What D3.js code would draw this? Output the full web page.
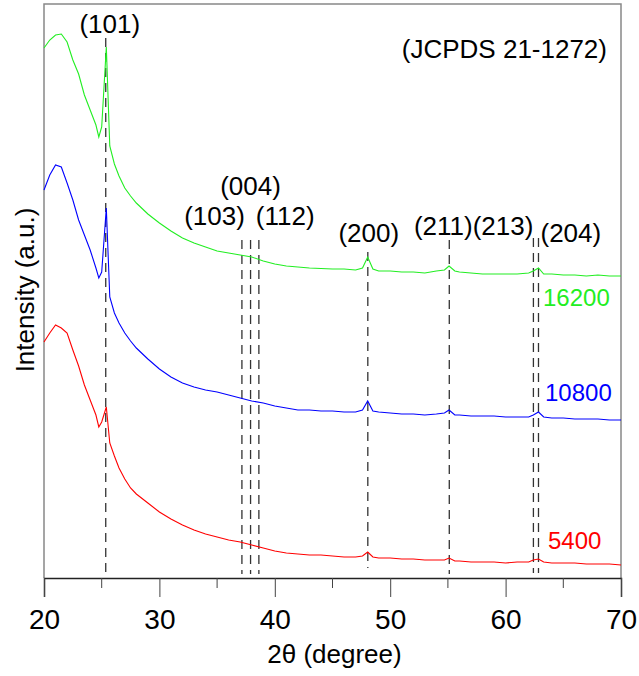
<!DOCTYPE html>
<html>
<head>
<meta charset="utf-8">
<script src="https://cdn.jsdelivr.net/npm/d3@7"></script>
<style>
body { margin: 0; background: #fff; }
text { font-family: "Liberation Sans", Arial, sans-serif; }
</style>
</head>
<body>
<script>
//2theta grid shared by the three patterns
var twoTheta = [20, 20.5, 21, 21.5, 22, 22.5, 23, 23.5, 24, 24.5, 24.75, 25.0, 25.4, 25.7, 26.1, 26.5, 27, 27.5, 28, 29, 30, 31, 32, 33, 34, 35, 36, 37, 38, 39, 40, 41, 42, 43, 44, 45, 46, 47, 47.6, 48.05, 48.5, 49, 50, 51, 52, 53, 54, 54.7, 55.1, 55.6, 56, 57, 58, 59, 60, 61, 62, 62.4, 62.85, 63.3, 64, 65, 66, 67, 68, 69, 70];

//Intensities (a.u., stacked with offset)
var i16200 = [530, 538, 543, 544, 536, 518, 504, 483, 468, 453, 441, 451, 531, 432, 414, 402, 390, 382, 375, 364, 355, 347, 340, 335, 331, 327, 325, 323, 321, 317, 314, 312, 311, 310, 309.5, 309, 309, 308, 310, 321, 309, 307, 307, 306, 306, 305, 307, 308, 312, 307, 306, 305, 304, 304, 304, 304, 305, 307, 310, 304, 304, 303, 303, 302, 303, 302, 302];
var i10800 = [388, 403, 413, 411, 395, 378, 358, 343, 328, 310, 300, 306, 370, 281, 265, 255, 245, 237, 230, 219, 209, 201, 195, 191, 188, 186, 183, 180, 177, 175, 172, 170, 168, 168, 167, 167, 166, 166, 168, 177, 167, 166, 165, 164, 164, 163, 164, 165, 168, 163, 163, 162, 162, 162, 161, 161, 161, 163, 166, 161, 160, 160, 159, 159, 159, 158, 158];
var i5400 = [236, 245, 253, 250, 245, 228, 212, 193, 178, 163, 151, 156, 171, 135, 122, 110, 99, 90, 84, 75, 66, 59, 53, 48, 44, 41, 38, 36, 33, 30, 27, 25, 24, 23, 23, 22, 21, 21, 22, 26, 21, 20, 20, 19, 19, 18, 18, 18, 20, 17, 17, 16, 16, 16, 15, 16, 16, 18, 19, 16, 15, 15, 15, 14, 14, 14, 13];

var seriesNames = ["16200", "10800", "5400"];
var seriesColors = ["#22ee22", "#0000ff", "#ff0000"];

//Anatase reflections (JCPDS 21-1272)
var peakLabels = ["(101)", "(103)", "(004)", "(112)", "(200)", "(211)", "(213)", "(204)"];
var peakPositions = [25.35, 37.15, 37.9, 38.62, 48.06, 55.12, 62.41, 62.85];
var peakLineTop = [540, 338, 338, 338, 326, 338, 340, 340];
var peakLineBottom = [0, 4, 4, 4, 10, 4, 5, 5];

var xTicks = [20, 30, 40, 50, 60, 70];
var xMinorTicks = [25, 35, 45, 55, 65];

var width = 639, height = 676;
var margin = {left: 44, right: 18, top: 4, bottom: 98};

var svg = d3.select("body").append("svg")
	.attr("width", width).attr("height", height);

var x = d3.scaleLinear().domain([20, 70]).range([margin.left, width - margin.right]);
var y = d3.scaleLinear().domain([0, 574]).range([height - margin.bottom, margin.top]);

//Frame (grey) on top, left and right
svg.append("path")
	.attr("d", "M" + x(20) + "," + y(0) + "V" + y(574) + "H" + x(70) + "V" + y(0))
	.attr("fill", "none").attr("stroke", "#888").attr("stroke-width", 1.5);

//Dashed reference lines
svg.append("g").selectAll("line")
	.data(peakPositions)
	.enter().append("line")
	.attr("x1", function (d) { return x(d); })
	.attr("x2", function (d) { return x(d); })
	.attr("y1", function (d, i) { return y(peakLineTop[i]); })
	.attr("y2", function (d, i) { return y(peakLineBottom[i]); })
	.attr("stroke", "#333").attr("stroke-width", 1.3)
	.attr("stroke-dasharray", "9,6");

//The three patterns
var line = d3.line()
	.x(function (d) { return x(d[0]); })
	.y(function (d) { return y(d[1]); });

[i16200, i10800, i5400].forEach(function (s, k) {
	svg.append("path")
		.datum(d3.zip(twoTheta, s))
		.attr("d", line)
		.attr("fill", "none")
		.attr("stroke", seriesColors[k])
		.attr("stroke-width", 1.1);
});

//Bottom axis, major and minor ticks
var xAxis = svg.append("g")
	.attr("transform", "translate(0," + y(0) + ")")
	.call(d3.axisBottom(x).tickValues(xTicks).tickSize(19).tickPadding(12).tickFormat(d3.format("d")));
xAxis.select(".domain").attr("stroke", "#222").attr("stroke-width", 1.5);
xAxis.selectAll(".tick line").attr("stroke", "#444");
xAxis.selectAll(".tick text").style("font-size", "28px").attr("fill", "#000")
	.style("font-family", "Liberation Sans, Arial, sans-serif");
svg.append("g").selectAll("line")
	.data(xMinorTicks).enter().append("line")
	.attr("x1", function (d) { return x(d); }).attr("x2", function (d) { return x(d); })
	.attr("y1", y(0)).attr("y2", y(0) + 10)
	.attr("stroke", "#444");

//Axis titles
svg.append("text")
	.attr("x", (x(20) + x(70)) / 2 + 2).attr("y", 663)
	.attr("text-anchor", "middle").style("font-size", "26px")
	.text("2θ (degree)");
svg.append("text")
	.attr("transform", "translate(34," + 290 + ") rotate(-90)")
	.attr("text-anchor", "middle").style("font-size", "26px")
	.text("Intensity (a.u.)");

//Peak labels, placed next to their dashed lines
var labelAnchor = ["middle", "end", "middle", "start", "middle", "middle", "end", "start"];
var labelDx = [4, 3, 0, -3, 1, -6, 0, 2];
var labelY = [33, 225, 195, 225, 242, 235, 235, 242];
svg.append("g").selectAll("text")
	.data(peakLabels).enter().append("text")
	.attr("x", function (d, i) { return x(peakPositions[i]) + labelDx[i]; })
	.attr("y", function (d, i) { return labelY[i]; })
	.attr("text-anchor", function (d, i) { return labelAnchor[i]; })
	.style("font-size", "26px")
	.text(function (d) { return d; });

svg.append("text")
	.attr("x", 607).attr("y", 58)
	.attr("text-anchor", "end").style("font-size", "26px")
	.text("(JCPDS 21-1272)");

//Series labels
var seriesLabelX = [543, 545, 548];
var seriesLabelY = [306, 401, 549];
svg.append("g").selectAll("text")
	.data(seriesNames).enter().append("text")
	.attr("x", function (d, i) { return seriesLabelX[i]; })
	.attr("y", function (d, i) { return seriesLabelY[i]; })
	.attr("fill", function (d, i) { return seriesColors[i]; })
	.style("font-size", "24px")
	.text(function (d) { return d; });
</script>
</body>
</html>
